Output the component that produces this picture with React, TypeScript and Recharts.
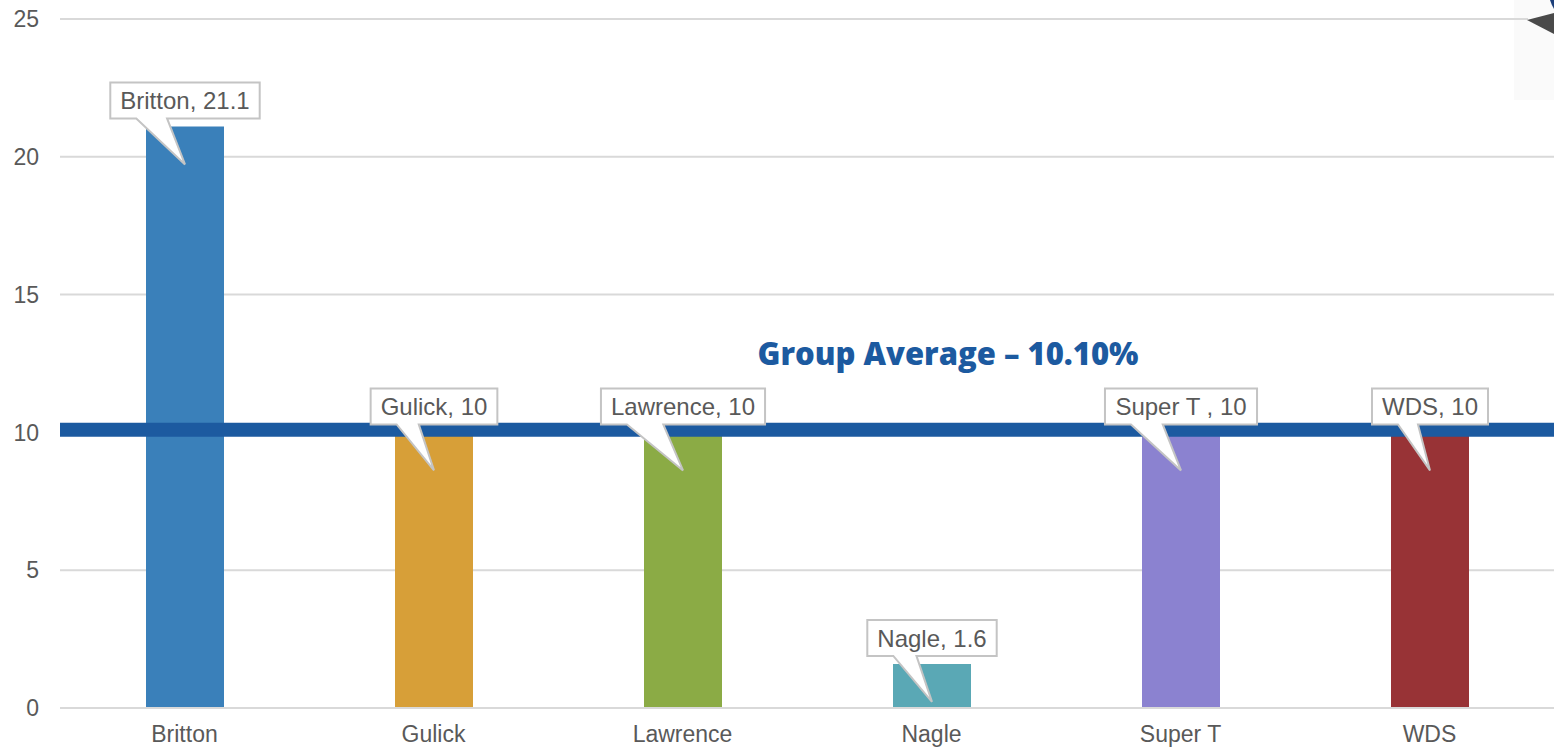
import React from "react";
import { BarChart, Bar, XAxis, YAxis, CartesianGrid, ReferenceLine, LabelList, Cell } from "recharts";

const schools = ["Britton", "Gulick", "Lawrence", "Nagle", "Super T", "WDS"];
const calloutNames = ["Britton", "Gulick", "Lawrence", "Nagle", "Super T ", "WDS"];
const rates = [21.1, 10, 10, 1.6, 10, 10];
const barColors = ["#3A80BA", "#D79F38", "#8BAB45", "#5AA8B5", "#8B82D0", "#983336"];
const yTicks = [0, 5, 10, 15, 20, 25];
const groupAverage = 10.1;
const averageText = "Group Average \u2013 10.10%";

const FONT = "'Liberation Sans', Arial, sans-serif";
const TEXT_GREY = "#595959";
const GRID_GREY = "#D9D9D9";
const AVG_BLUE = "#1C5AA0";

const data = schools.map((name, i) => ({ name, value: rates[i], callout: `${calloutNames[i]}, ${rates[i]}` }));

let ctx: CanvasRenderingContext2D | null = null;
function textWidth(s: string, size: number) {
  if (!ctx) ctx = document.createElement("canvas").getContext("2d");
  if (!ctx) return s.length * size * 0.5;
  ctx.font = `${size}px 'Liberation Sans', Arial, sans-serif`;
  return ctx.measureText(s).width;
}

// speech-bubble style data label, box above the bar with a pointer into it
function Callout(props: any) {
  const { x, y, width, value } = props;
  const fs = 24;
  const cx = x + width / 2;
  const w = textWidth(String(value), fs) + 20;
  const h = 36;
  const left = cx - w / 2;
  const right = cx + w / 2;
  const bottom = y - 8;
  const top = bottom - h;
  const baseL = left + 26;
  const baseR = Math.max(left + w * 0.38, baseL + 20);
  const tipY = y + 38;
  const d = `M${left},${top} H${right} V${bottom} H${baseR} L${cx},${tipY} L${baseL},${bottom} H${left} Z`;
  return (
    <g>
      <path d={d} fill="#fff" stroke="#C4C4C4" strokeWidth={2} strokeLinejoin="miter" />
      <text x={cx} y={bottom - 9} textAnchor="middle" fontSize={fs} fontFamily={FONT} fill={TEXT_GREY}>
        {value}
      </text>
    </g>
  );
}

function AverageTitle(props: any) {
  const { viewBox } = props;
  if (!viewBox) return null;
  return (
    <text
      x={viewBox.x + 888}
      y={viewBox.y - 65}
      textAnchor="middle"
      fontSize={31}
      fontWeight={800}
      fontFamily="'Open Sans', 'Noto Sans', sans-serif"
      fill={AVG_BLUE}
    >
      {averageText}
    </text>
  );
}

export default function App() {
  return (
    <div style={{ position: "absolute", left: 0, top: 0, width: 1554, height: 751, background: "#fff" }}>
      <BarChart width={1554} height={751} data={data} margin={{ top: 19, right: 0, bottom: 0, left: 0 }} barSize={78}>
        <CartesianGrid vertical={false} stroke={GRID_GREY} strokeWidth={2} />
        <XAxis
          dataKey="name"
          height={43}
          axisLine={{ stroke: GRID_GREY, strokeWidth: 2 }}
          tickLine={false}
          tickSize={0}
          tickMargin={18}
          tick={{ fill: TEXT_GREY, fontSize: 23, fontFamily: FONT }}
        />
        <YAxis
          width={60}
          domain={[0, 25]}
          ticks={yTicks}
          axisLine={false}
          tickLine={false}
          tickSize={0}
          tickMargin={21}
          tick={{ fill: TEXT_GREY, fontSize: 23, fontFamily: FONT }}
        />
        <Bar dataKey="value" isAnimationActive={false}>
          {data.map((d, i) => (
            <Cell key={d.name} fill={barColors[i]} />
          ))}
          <LabelList dataKey="callout" content={Callout} />
        </Bar>
        <ReferenceLine y={groupAverage} stroke={AVG_BLUE} strokeWidth={14} label={<AverageTitle />} />
      </BarChart>
      {/* cropped graphic poking in at the top right corner */}
      <svg width={40} height={100} style={{ position: "absolute", left: 1514, top: 0 }}>
        <rect x={0} y={0} width={40} height={100} fill="#FAFAFA" />
        <line x1={0} y1={19} x2={14} y2={19} stroke={GRID_GREY} strokeWidth={2} />
        <polygon points="13,20 40,13 40,34" fill="#4A4A4A" />
        <path d="M36,0 Q38,6 40,9 L40,0 Z" fill="#1C3F7A" />
      </svg>
    </div>
  );
}
